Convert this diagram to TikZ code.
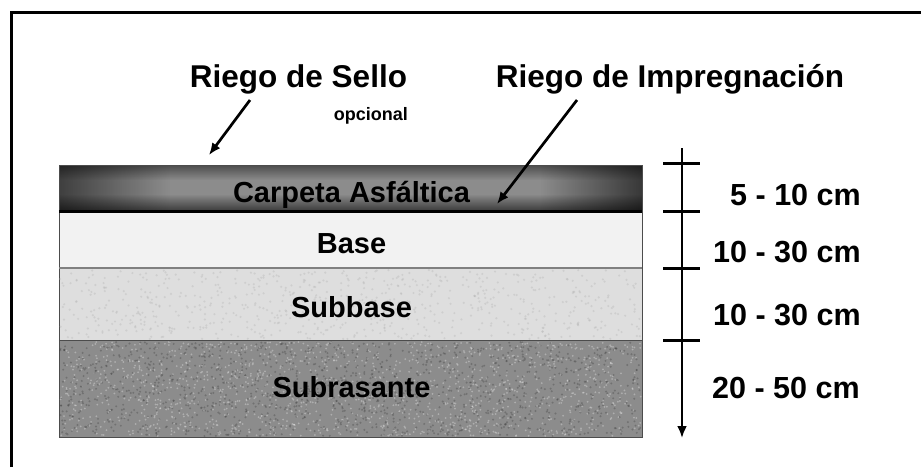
\documentclass[tikz,border=0pt]{standalone}
\usepackage{fontspec}
\setmainfont{Liberation Sans}
\usetikzlibrary{arrows.meta,fadings}

\begin{document}
\begin{tikzpicture}[x=1pt, y=-1pt]

\tikzstyle{every node} = [inner sep=0pt, font=\bfseries]
\tikzstyle{layer} = [rectangle, draw=black!70, minimum width=583pt]
\tikzstyle{riego} = [anchor=base, font=\bfseries\fontsize{31.5}{31.5}\selectfont]
\tikzstyle{capa} = [anchor=base, font=\bfseries\fontsize{29}{29}\selectfont]
\tikzstyle{espesor} = [anchor=base west, font=\bfseries\fontsize{30.5}{30.5}\selectfont]
\tikzstyle{flecha} = [-{Latex[length=12pt,width=10pt]}, line width=2.7pt]

\useasboundingbox (0,0) rectangle (921,467);
\fill[white] (0,0) rectangle (921,467);
\draw[line width=3pt] (11,467) -- (11,12) -- (921,12);

% layers
\node[layer, minimum height=46pt, fill=black!45] (carpeta) at (350.5,188) {};
\node[layer, minimum height=57pt, fill=black!5] (base) at (350.5,239.5) {};
\node[layer, minimum height=72pt, fill=black!13] (subbase) at (350.5,304) {};
\node[layer, minimum height=97pt, fill=black!45] (subrasante) at (350.5,388.5) {};

% carpet shading
\fill[black, opacity=.45, path fading=south] (59,165) rectangle (642,180);
\fill[black, opacity=.55, path fading=north] (59,194) rectangle (642,210);
\fill[black, opacity=.55, path fading=east] (59,165) rectangle (170,210);
\fill[black, opacity=.6, path fading=west] (540,165) rectangle (642,210);
\draw[black!70] (carpeta.south west) rectangle (carpeta.north east);
\draw[line width=3pt] (carpeta.south west) -- (carpeta.south east);

% texture
\pgfmathsetseed{7}
\foreach \i in {1,...,700} {
  \pgfmathsetmacro\px{60+581*rnd}
  \pgfmathsetmacro\py{270+69*rnd}
  \fill[black!30, opacity=.35] (\px,\py) circle (1.2pt);
}
\foreach \i in {1,...,1400} {
  \pgfmathsetmacro\px{60+581*rnd}
  \pgfmathsetmacro\py{342+94*rnd}
  \fill[black!80, opacity=.3] (\px,\py) circle (1.1pt);
  \pgfmathsetmacro\qx{60+581*rnd}
  \pgfmathsetmacro\qy{342+94*rnd}
  \fill[white, opacity=.3] (\qx,\qy) circle (1pt);
}
\draw[black!70] (subbase.south west) -- (subbase.south east);
\draw[black!50, line width=1.5pt] (base.south west) -- (base.south east);

\node[capa] (tcarpeta) at (351.5,202) {Carpeta Asfáltica};
\node[capa] (tbase) at (351.5,253) {Base};
\node[capa] (tsubbase) at (351.5,317) {Subbase};
\node[capa] (tsubrasante) at (351.5,397) {Subrasante};

% riegos
\node[riego] (sello) at (298.5,87) {Riego de Sello};
\node[anchor=base east, font=\bfseries\fontsize{18}{18}\selectfont] (opcional) at (408,120) {opcional};
\node[riego] (impreg) at (670,87) {Riego de Impregnación};
\coordinate (psello) at (209,155);
\coordinate (pimpreg) at (497,204);
\draw[flecha] (250,100) -- (psello);
\draw[flecha] (577,100) -- (pimpreg);

% espesores
\coordinate (top) at (682,148);
\coordinate (bot) at (682,438);
\draw[flecha] (top) -- (bot);
\foreach \y in {163,211,268,340}
  \draw[line width=3pt] (663,\y) -- (700,\y);

\node[espesor] (e1) at (730,205) {5 - 10 cm};
\node[espesor] (e2) at (713,262) {10 - 30 cm};
\node[espesor] (e3) at (713,325) {10 - 30 cm};
\node[espesor] (e4) at (712,398) {20 - 50 cm};

\end{tikzpicture}
\end{document}
